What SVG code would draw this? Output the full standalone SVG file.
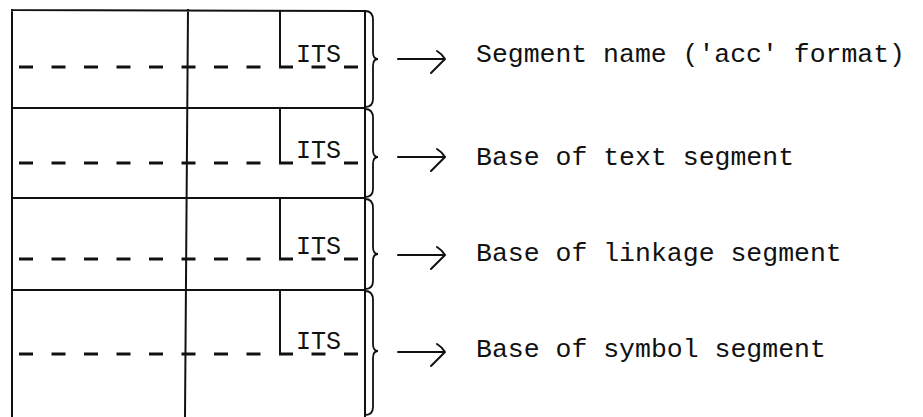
<svg xmlns="http://www.w3.org/2000/svg" width="923" height="417" viewBox="0 0 923 417">
<defs>
<style>
.ln{stroke:#111;stroke-width:2;fill:none;stroke-linecap:square}
.dash{stroke:#111;stroke-width:3;fill:none;stroke-dasharray:14 18.5}
.br{stroke:#111;stroke-width:1.8;fill:none}
.ar{stroke:#111;stroke-width:2;fill:none;stroke-linecap:round;stroke-linejoin:round}
.t{font-family:"Liberation Mono","Courier New",monospace;font-size:26.5px;fill:#111}
.its{font-family:"Liberation Mono","Courier New",monospace;font-size:25px;fill:#111}
</style>
</defs>
<rect width="923" height="417" fill="#fff"/>
<g id="table">
<path class="ln" d="M12 10 L365 11 L365 416 M12 10 L12 416 M188 10 L185 416"/>
</g>
<g id="row1">
<path class="ln" d="M280 11 L280 67"/>
<line class="dash" x1="19" y1="67" x2="362" y2="67"/>
<text class="its" x="296" y="62">ITS</text>
<path class="br" d="M365 11 Q373 11 373 20 L373 52 Q373 59 378 59 Q373 59 373 66 L373 99 Q373 107 365 107"/>
</g>
<g id="row2">
<path class="ln" d="M12 108 L365 108 M280 108 L280 163"/>
<line class="dash" x1="19" y1="163" x2="362" y2="163"/>
<text class="its" x="296" y="158">ITS</text>
<path class="br" d="M365 109 Q373 109 373 118 L373 150 Q373 157 378 157 Q373 157 373 164 L373 189 Q373 197 365 197"/>
</g>
<g id="row3">
<path class="ln" d="M12 198 L365 198 M280 198 L280 259"/>
<line class="dash" x1="19" y1="259" x2="362" y2="259"/>
<text class="its" x="296" y="254">ITS</text>
<path class="br" d="M365 199 Q373 199 373 208 L373 247 Q373 254 378 254 Q373 254 373 261 L373 281 Q373 289 365 289"/>
</g>
<g id="row4">
<path class="ln" d="M12 290 L365 290 M280 290 L280 354"/>
<line class="dash" x1="19" y1="354" x2="362" y2="354"/>
<text class="its" x="296" y="349">ITS</text>
<path class="br" d="M365 291 Q373 291 373 300 L373 344 Q373 351 378 351 Q373 351 373 358 L373 407 Q373 415 365 415"/>
</g>
<g id="connectors">
<path class="ar" d="M398 59 L444 59 M437 51 Q442 54 445 59 L431 73"/>
<path class="ar" d="M398 157 L444 157 M437 149 Q442 152 445 157 L431 171"/>
<path class="ar" d="M398 255 L444 255 M437 247 Q442 250 445 255 L431 269"/>
<path class="ar" d="M398 352 L444 352 M437 344 Q442 347 445 352 L431 366"/>
</g>
<g id="labels">
<text class="t" x="476" y="62" textLength="429" lengthAdjust="spacingAndGlyphs">Segment name ('acc' format)</text>
<text class="t" x="476" y="165">Base of text segment</text>
<text class="t" x="476" y="261">Base of linkage segment</text>
<text class="t" x="476" y="357">Base of symbol segment</text>
</g>
</svg>
